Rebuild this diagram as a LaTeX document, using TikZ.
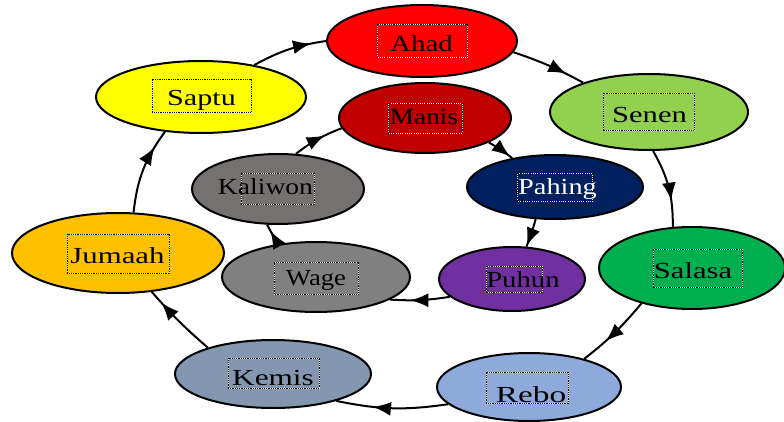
\documentclass[tikz,border=0pt]{standalone}
\usepackage{fontspec}
\usepackage{graphicx}
\setmainfont{Liberation Serif}
\usetikzlibrary{shapes.geometric,arrows.meta,decorations.markings}
\definecolor{cAhad}{HTML}{FF0000}
\definecolor{cManis}{HTML}{C00000}
\definecolor{cSenen}{HTML}{92D050}
\definecolor{cSalasa}{HTML}{00B050}
\definecolor{cRebo}{HTML}{8EAADB}
\definecolor{cKemis}{HTML}{8497B0}
\definecolor{cJumaah}{HTML}{FFC000}
\definecolor{cSaptu}{HTML}{FFFF00}
\definecolor{cKaliwon}{HTML}{767171}
\definecolor{cWage}{HTML}{808080}
\definecolor{cPahing}{HTML}{002060}
\definecolor{cPuhun}{HTML}{7030A0}
\newcommand\wlbl[2]{\scalebox{#1}[1]{#2}}
\tikzset{
  ell/.style={ellipse, draw=black, line width=2pt, inner sep=0pt},
  txt/.style={anchor=base, inner sep=0pt, font=\fontsize{23}{27}\selectfont},
  dotbox/.style={draw=black, line width=0.8pt, dash pattern=on 0.9pt off 0.9pt,
     preaction={draw=white, solid, line width=0.8pt}},
  conn/.style={draw=black, line width=2pt, postaction={decorate},
     decoration={markings, mark=at position #1 with {\arrow{Latex[length=18pt,width=14pt]}}}}
}
\begin{document}
\begin{tikzpicture}[x=1pt,y=1pt]
\useasboundingbox (0,0) rectangle (784,421);
% outer ellipses
\node[ell, fill=cAhad,   minimum width=190pt, minimum height=72pt] (ahad)   at (422,380) {};
\node[ell, fill=cSenen,  minimum width=198pt, minimum height=76pt] (senen)  at (649,309) {};
\node[ell, fill=cSalasa, minimum width=186pt, minimum height=82pt] (salasa) at (692,153) {};
\node[ell, fill=cRebo,   minimum width=184pt, minimum height=68pt] (rebo)   at (529,34) {};
\node[ell, fill=cKemis,  minimum width=196pt, minimum height=68pt] (kemis)  at (273,47) {};
\node[ell, fill=cJumaah, minimum width=212pt, minimum height=80pt] (jumaah) at (118,168) {};
\node[ell, fill=cSaptu,  minimum width=210pt, minimum height=72pt] (saptu)  at (201,324) {};
% inner ellipses
\node[ell, fill=cManis,   minimum width=172pt, minimum height=70pt] (manis)   at (425,303) {};
\node[ell, fill=cPahing,  minimum width=176pt, minimum height=64pt] (pahing)  at (555,234) {};
\node[ell, fill=cPuhun,   minimum width=146pt, minimum height=64pt] (puhun)   at (512,142) {};
\node[ell, fill=cWage,    minimum width=188pt, minimum height=70pt] (wage)    at (316,144) {};
\node[ell, fill=cKaliwon, minimum width=172pt, minimum height=70pt] (kaliwon) at (278,232) {};
% dotted label boxes
\draw[dotbox] (377,364) rectangle (467,397);
\draw[dotbox] (603,291) rectangle (694,328);
\draw[dotbox] (653,134) rectangle (742,172);
\draw[dotbox] (486,18) rectangle (568,49);
\draw[dotbox] (228,33) rectangle (319,63);
\draw[dotbox] (67,148) rectangle (169,187);
\draw[dotbox] (152,309) rectangle (251,342);
\draw[dotbox] (388,288) rectangle (462,318);
\draw[dotbox] (517,220) rectangle (592,248);
\draw[dotbox] (486,129) rectangle (542,155);
\draw[dotbox] (274,127) rectangle (358,159);
\draw[dotbox] (241,217) rectangle (314,248);
% labels
\node[txt] (t-ahad)    at (421.5,369) {\wlbl{1.26}{Ahad}};
\node[txt] (t-senen)   at (649.5,298) {\wlbl{1.33}{Senen}};
\node[txt] (t-salasa)  at (693,143)   {\wlbl{1.33}{Salasa}};
\node[txt] (t-rebo)    at (531,19)    {\wlbl{1.45}{Rebo}};
\node[txt] (t-kemis)   at (273,36)    {\wlbl{1.36}{Kemis}};
\node[txt] (t-jumaah)  at (117.5,158) {\wlbl{1.34}{Jumaah}};
\node[txt] (t-saptu)   at (201.5,315) {\wlbl{1.31}{Saptu}};
\node[txt] (t-manis)   at (424,296)   {\wlbl{1.19}{Manis}};
\node[txt, text=white] (t-pahing) at (557.5,226) {\wlbl{1.23}{Pahing}};
\node[txt] (t-puhun)   at (523,134)   {\wlbl{1.25}{Puhun}};
\node[txt] (t-wage)    at (316,136)   {\wlbl{1.16}{Wage}};
\node[txt] (t-kaliwon) at (265.5,226) {\wlbl{1.20}{Kaliwon}};
% outer cycle
\draw[conn=0.8]  (saptu.31)   to[bend left=10] (ahad.180);
\draw[conn=0.75] (ahad.-7)    to[bend left=5]  (senen.156);
\draw[conn=0.67] (senen.-84)  to[bend left=15] (salasa.115);
\draw[conn=0.65] (salasa.215) to[bend left=6]  (rebo.27);
\draw[conn=0.67] (rebo.192)   to[bend left=10] (kemis.-23);
\draw[conn=0.82] (kemis.158)  to[bend left=4]  (jumaah.-49);
\draw[conn=0.79] (jumaah.69)  to[bend left=15] (saptu.224);
% inner cycle
\draw[conn=0.9]  (manis.-21)  to[bend left=5]  (pahing.146);
\draw[conn=0.97] (pahing.239) to[bend left=3]  (puhun.66);
\draw[conn=0.66] (puhun.196)  to[bend left=6]  (wage.-17);
\draw[conn=0.7]  (wage.138)   to[bend left=5]  (kaliwon.253);
\draw[conn=0.65] (kaliwon.63) to[bend left=8]  (manis.187);
\end{tikzpicture}
\end{document}
